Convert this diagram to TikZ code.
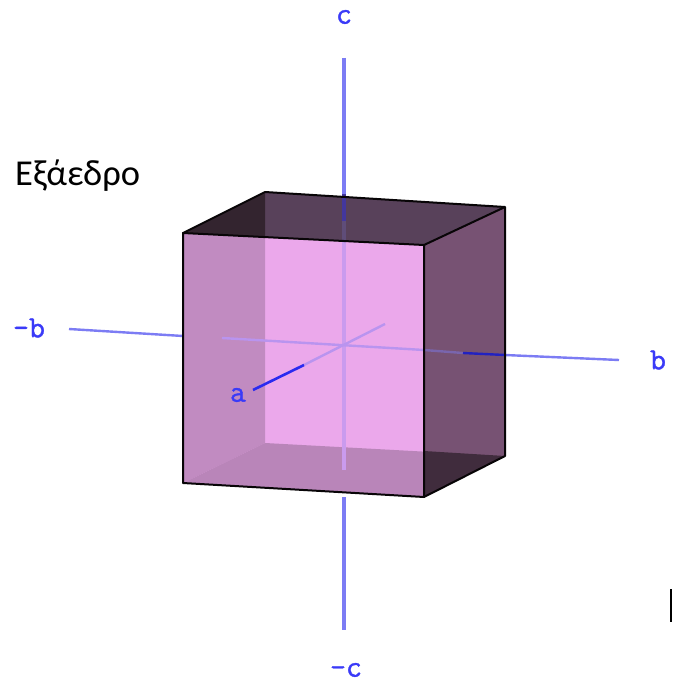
\documentclass[tikz,border=0pt]{standalone}
\usepackage{fontspec}
\setmainfont{Carlito}
\newfontfamily\axisfont[FakeBold=1.2]{Latin Modern Mono}
\definecolor{axblue}{HTML}{7C7CF4}
\definecolor{axstrong}{HTML}{2A2AF0}
\definecolor{axlabel}{HTML}{3A3AF8}
\definecolor{faceL}{HTML}{C18BC1}
\definecolor{faceC}{HTML}{EBA8EB}
\definecolor{faceR}{HTML}{775273}
\definecolor{faceT}{HTML}{58415A}
\definecolor{faceTL}{HTML}{33242F}
\definecolor{faceB}{HTML}{B985B9}
\definecolor{faceBR}{HTML}{402C3D}
\tikzset{
  axlab/.style={text=axlabel,font=\axisfont\fontsize{31}{31}\selectfont,inner sep=0pt},
  ax/.style={line width=3.6pt,color=axblue},
  axin/.style={line width=2.4pt,color=#1},
  edge/.style={line width=2pt,color=black!85!faceTL,line join=round}
}
\begin{document}
\begin{tikzpicture}[x=1pt,y=-1pt]
\useasboundingbox (0,0) rectangle (672,682);
\fill[white] (0,0) rectangle (672,682);
% vertices
\coordinate (ftl) at (183,233);
\coordinate (ftr) at (424,245);
\coordinate (fbr) at (424,497);
\coordinate (fbl) at (183,483);
\coordinate (btl) at (265,192);
\coordinate (btr) at (505,207);
\coordinate (bbr) at (505,456);
\coordinate (bbl) at (265,443);
\coordinate (ctop) at (344,58);
\coordinate (cbot) at (344,630);
\coordinate (ctopend) at (344,221);
\coordinate (ctopface) at (344,194);
\coordinate (cfronttop) at (344,240);
\coordinate (cinner) at (344,470);
\coordinate (cout) at (344,497);
\coordinate (bneg) at (69,329);
\coordinate (bnegin) at (183,336);
\coordinate (binner) at (222,338);
\coordinate (bright) at (424,350);
\coordinate (bdark) at (463,353);
\coordinate (bexit) at (505,355);
\coordinate (bpos) at (619,360);
\coordinate (afar) at (385,324);
\coordinate (amid) at (304,365);
\coordinate (aend) at (253,390);
% faces
\fill[faceC] (ftl) -- (ftr) -- (fbr) -- (fbl) -- cycle;
\fill[faceL] (ftl) -- (btl) -- (bbl) -- (fbl) -- cycle;
\fill[faceB] (bbl) -- (bbr) -- (fbr) -- (fbl) -- cycle;
\fill[faceR] (ftr) -- (btr) -- (bbr) -- (fbr) -- cycle;
\fill[faceT] (btl) -- (btr) -- (ftr) -- (ftl) -- cycle;
\fill[faceTL] (btl) -- (ftl) -- (265,237.1) -- cycle;
\fill[faceBR] (424,451) -- (bbr) -- (fbr) -- cycle;
% axes
\draw[ax] (ctop) -- (ctopface);
\draw[line width=3.6pt,color=axstrong!45!faceT] (ctopface) -- (ctopend);
\draw[line width=3.6pt,color=faceT!80!axblue] (ctopend) -- (cfronttop);
\draw[line width=3.6pt,color=faceC!70!axblue] (cfronttop) -- (cinner);
\draw[ax] (cout) -- (cbot);
\draw[axin=axblue] (bneg) -- (bnegin);
\draw[axin=faceC!55!axblue] (binner) -- (bright);
\draw[axin=faceR!55!axblue] (bright) -- (bdark);
\draw[axin=axstrong!80!black] (bdark) -- (bexit);
\draw[axin=axblue] (bexit) -- (bpos);
\draw[axin=faceC!55!axblue] (afar) -- (amid);
\draw[line width=2.6pt,color=axstrong] (amid) -- (aend);
% edges
\draw[edge] (ftl) -- (ftr) -- (fbr) -- (fbl) -- cycle;
\draw[edge] (ftl) -- (btl) -- (btr) -- (bbr) -- (fbr);
\draw[edge] (ftr) -- (btr);
% labels
\node[axlab] (lc) at (344,17) {c};
\node[axlab] (lmc) at (346,670) {-c};
\node[axlab] (lmb) at (29,328) {-b};
\node[axlab] (lb) at (658,360) {b};
\node[axlab] (la) at (238,395) {a};
\node[inner sep=0pt,anchor=base west,font=\fontsize{36.5}{36.5}\selectfont] (title) at (15,185) {Εξάεδρο};
\fill[black] (669.5,589) rectangle (672,622);
\end{tikzpicture}
\end{document}
